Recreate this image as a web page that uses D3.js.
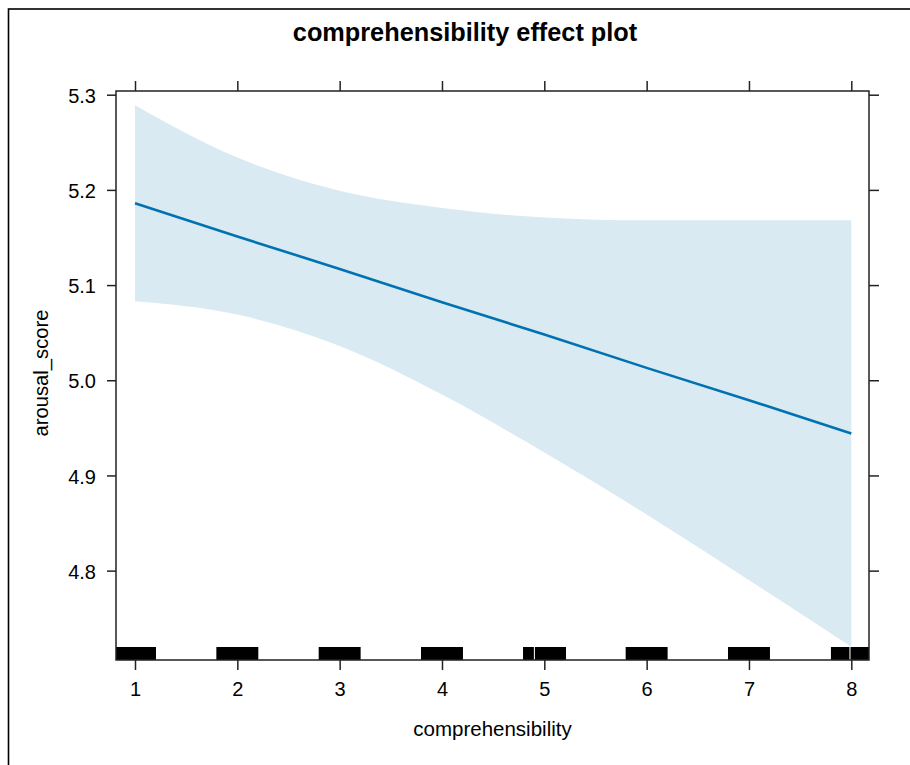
<!DOCTYPE html>
<html>
<head>
<meta charset="utf-8">
<script src="https://cdn.jsdelivr.net/npm/d3@7"></script>
<style>
  html, body { margin: 0; padding: 0; background: #fff; }
  svg text { font-family: "Liberation Sans", Arial, sans-serif; fill: #000; }
</style>
</head>
<body>
<svg id="chart" width="910" height="765"></svg>
<script>
// ---- data ----
const xValues = [1, 2, 3, 4, 5, 6, 7, 8];
const fitValues = [5.186, 5.151, 5.117, 5.082, 5.048, 5.013, 4.979, 4.944];
const upperValues = [5.289, 5.234, 5.199, 5.181, 5.171, 5.168, 5.168, 5.168];
const lowerValues = [5.083, 5.069, 5.036, 4.985, 4.924, 4.859, 4.790, 4.720];
const xTicks = [1, 2, 3, 4, 5, 6, 7, 8];
const yTicks = [4.8, 4.9, 5.0, 5.1, 5.2, 5.3];
const rugStart = [0.795, 1.795, 2.795, 3.795, 4.792, 4.908, 5.795, 6.795, 7.801, 7.992];
const rugEnd   = [1.205, 2.205, 3.205, 4.205, 4.898, 5.212, 6.205, 7.205, 7.982, 8.21];
const titleText = "comprehensibility effect plot";
const xLabel = "comprehensibility";
const yLabel = "arousal_score";

(function () {
  const svg = d3.select("#chart");
  const P = { left: 116, right: 869, top: 91, bottom: 660 };
  const x = d3.scaleLinear().domain([0.8143, 8.173]).range([P.left, P.right]);
  const y = d3.scaleLinear().domain([4.7061, 5.3039]).range([P.bottom, P.top]);

  // outer frame
  svg.append("rect").attr("x", 8.5).attr("y", 9).attr("width", 1000).attr("height", 1000)
    .attr("fill", "none").attr("stroke", "#000").attr("stroke-width", 1.6);

  // title
  svg.append("text").attr("x", 465).attr("y", 41).attr("text-anchor", "middle")
    .style("font-size", "25.3px").style("font-weight", "bold").text(titleText);

  // clip
  svg.append("clipPath").attr("id", "clip").append("rect")
    .attr("x", P.left).attr("y", P.top).attr("width", P.right - P.left).attr("height", P.bottom - P.top);
  const g = svg.append("g").attr("clip-path", "url(#clip)");

  const pts = xValues.map((v, i) => ({ x: v, fit: fitValues[i], lo: lowerValues[i], hi: upperValues[i] }));

  // confidence band
  g.append("path").datum(pts)
    .attr("d", d3.area().x(d => x(d.x)).y0(d => y(d.lo)).y1(d => y(d.hi)).curve(d3.curveMonotoneX))
    .attr("fill", "rgb(217,234,243)");

  // fit line
  g.append("path").datum(pts)
    .attr("d", d3.line().x(d => x(d.x)).y(d => y(d.fit)))
    .attr("fill", "none").attr("stroke", "#0072B2").attr("stroke-width", 2.6);

  // rug
  g.selectAll("rect.rug").data(rugStart.map((s, i) => [s, rugEnd[i]])).enter().append("rect")
    .attr("class", "rug")
    .attr("x", d => x(d[0])).attr("width", d => x(d[1]) - x(d[0]))
    .attr("y", 647).attr("height", P.bottom - 647)
    .attr("fill", "#000");

  // panel border
  svg.append("rect").attr("x", P.left).attr("y", P.top)
    .attr("width", P.right - P.left).attr("height", P.bottom - P.top)
    .attr("fill", "none").attr("stroke", "#222").attr("stroke-width", 1.5);

  const tickColor = "#222";
  const fontFam = "Liberation Sans, Arial, sans-serif";
  // bottom axis
  const axB = svg.append("g").attr("transform", `translate(0,${P.bottom})`)
    .call(d3.axisBottom(x).tickValues(xTicks).tickSize(10).tickSizeOuter(0).tickPadding(12).tickFormat(d3.format("d")));
  axB.select(".domain").remove();
  axB.selectAll(".tick line").attr("stroke", tickColor).attr("stroke-width", 1.5);
  axB.selectAll(".tick text").style("font-size", "20px").style("font-family", fontFam).attr("fill", "#000");

  // top axis (ticks only)
  const axT = svg.append("g").attr("transform", `translate(0,${P.top})`)
    .call(d3.axisTop(x).tickValues(xTicks).tickSize(10).tickSizeOuter(0).tickFormat(""));
  axT.select(".domain").remove();
  axT.selectAll(".tick line").attr("stroke", tickColor).attr("stroke-width", 1.5);

  // left axis
  const axL = svg.append("g").attr("transform", `translate(${P.left},0)`)
    .call(d3.axisLeft(y).tickValues(yTicks).tickSize(9).tickSizeOuter(0).tickPadding(11).tickFormat(d3.format(".1f")));
  axL.select(".domain").remove();
  axL.selectAll(".tick line").attr("stroke", tickColor).attr("stroke-width", 1.5);
  axL.selectAll(".tick text").style("font-size", "20px").style("font-family", fontFam).attr("fill", "#000").attr("dy", "0.38em");

  // right axis (ticks only)
  const axR = svg.append("g").attr("transform", `translate(${P.right},0)`)
    .call(d3.axisRight(y).tickValues(yTicks).tickSize(10).tickSizeOuter(0).tickFormat(""));
  axR.select(".domain").remove();
  axR.selectAll(".tick line").attr("stroke", tickColor).attr("stroke-width", 1.5);

  // axis titles
  svg.append("text").attr("x", (P.left + P.right) / 2).attr("y", 736).attr("text-anchor", "middle")
    .style("font-size", "20.5px").text(xLabel);
  svg.append("text").attr("transform", `translate(48,373) rotate(-90)`).attr("text-anchor", "middle")
    .style("font-size", "20.2px").text(yLabel);
})();
</script>
</body>
</html>
